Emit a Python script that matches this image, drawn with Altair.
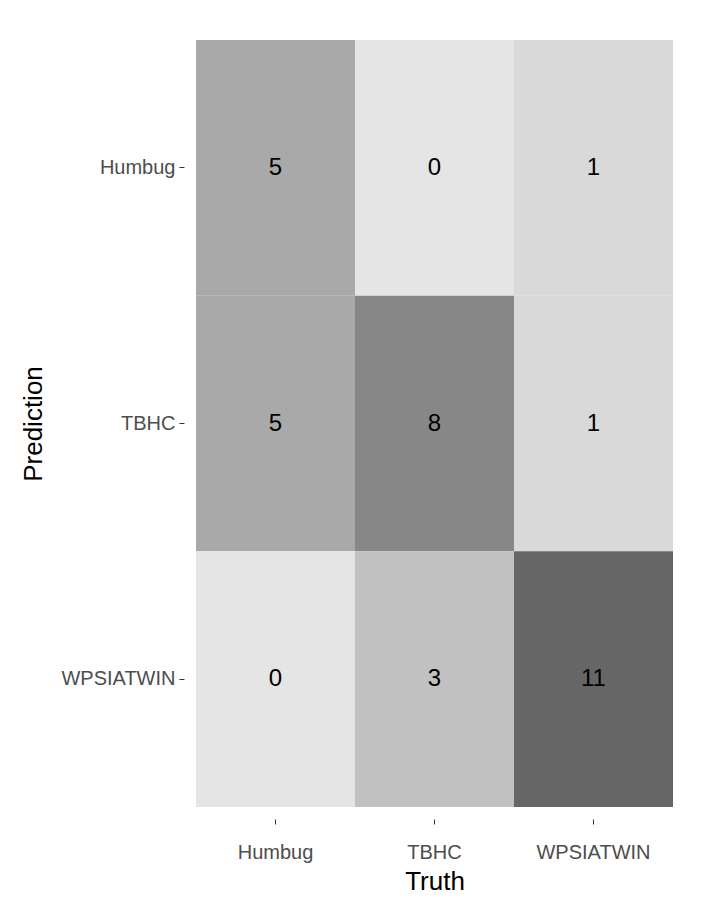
import altair as alt
import pandas as pd

classes = ["Humbug", "TBHC", "WPSIATWIN"]
truth = ["Humbug", "TBHC", "WPSIATWIN"] * 3
prediction = ["Humbug"] * 3 + ["TBHC"] * 3 + ["WPSIATWIN"] * 3
counts = [5, 0, 1, 5, 8, 1, 0, 3, 11]

source = pd.DataFrame({"Truth": truth, "Prediction": prediction, "n": counts})

base = alt.Chart(source).encode(
    x=alt.X("Truth:N", sort=classes, title="Truth",
            axis=alt.Axis(labelAngle=0, orient="bottom", offset=12)),
    y=alt.Y("Prediction:N", sort=classes, title="Prediction",
            axis=alt.Axis(offset=12)),
)

tiles = base.mark_rect().encode(
    color=alt.Color("n:Q", scale=alt.Scale(domain=[0, 11], range=["#e5e5e5", "#666666"]),
                    legend=None)
)
labels = base.mark_text(fontSize=24, font="Liberation Sans", color="black").encode(text="n:Q")

chart = (tiles + labels).properties(
    width=477, height=767, padding={"left": 12, "top": 32, "right": 20, "bottom": 5}
).configure_view(stroke=None).configure_axis(
    domain=False, grid=False, tickColor="#333333", tickSize=5,
    labelFont="Liberation Sans", labelFontSize=20, labelColor="#4d4d4d",
    labelPadding=4, titleFont="Liberation Sans", titleFontSize=26,
    titleFontWeight="normal", titleColor="black",
).configure_axisX(labelPadding=18, titlePadding=6).configure_axisY(titlePadding=14)

chart.save("out.html", embed_options={"renderer": "svg", "actions": False})
